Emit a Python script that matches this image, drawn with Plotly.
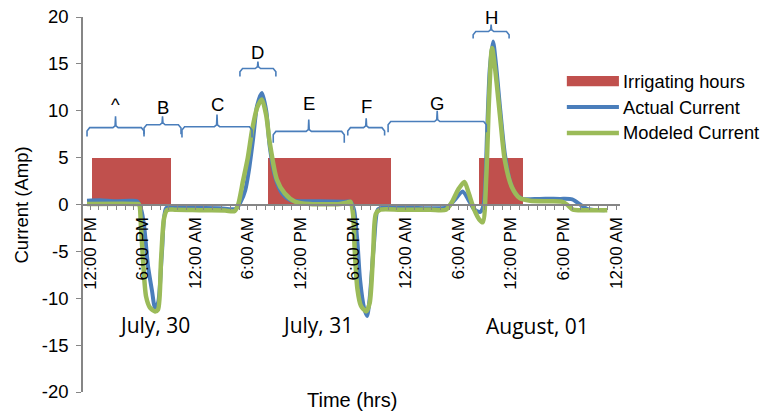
import plotly.graph_objects as go

# ---------------- data (x = hours since July 30, 12:00 PM) ----------------
tick_hours = [0, 6, 12, 18, 24, 30, 36, 42, 48, 54, 60]
tick_labels = ["12:00 PM", "6:00 PM", "12:00 AM", "6:00 AM", "12:00 PM", "6:00 PM",
               "12:00 AM", "6:00 AM", "12:00 PM", "6:00 PM", "12:00 AM"]
y_ticks = [-20, -15, -10, -5, 0, 5, 10, 15, 20]
y_tick_labels = ["-20", "-15", "-10", "-5", "0", "5", "10", "15", "20"]

irrig_start = [0.2, 20.3, 44.4]
irrig_end = [9.2, 34.3, 49.4]
irrig_level = [5, 5, 5]

actual_hours = [-0.34, 1.14, 2.85, 4.56, 5.36, 5.82, 6.16, 6.62, 7.07, 7.41, 7.76, 8.21, 8.67,
                9.35, 11.4, 14.8, 16.65, 17.2, 17.7, 18.1, 18.6, 19.05, 19.6, 20.1, 20.5, 21.1,
                21.9, 22.8, 24.0, 26.2, 29.1, 29.7, 30.1, 30.5, 30.8, 31.25, 31.6, 31.9, 32.4,
                32.85, 33.6, 36.5, 39.9, 40.8, 41.6, 42.5, 43.1, 43.8, 44.5, 44.9, 45.3, 45.6,
                45.97, 46.3, 46.8, 47.3, 47.9, 48.5, 49.3, 51.3, 53.6, 55.0, 55.9, 56.8, 58.7]
actual_amps = [0.4, 0.45, 0.35, 0.4, 0.35, -0.5, -2.2, -6.6, -9.2, -11.0, -10.5, -5.0, -0.4,
               -0.3, -0.35, -0.4, -0.45, 0.3, 1.5, 3.5, 7.0, 10.5, 11.9, 10.0, 6.2, 3.0,
               1.2, 0.5, 0.35, 0.35, 0.3, 0.3, -0.5, -4.0, -8.0, -11.0, -11.9, -10.0, -4.0,
               -0.5, -0.3, -0.35, -0.4, -0.3, 0.5, 1.4, 0.6, -0.5, -0.8, 0.0, 8.0, 14.5,
               17.4, 15.0, 10.0, 5.5, 2.5, 1.2, 0.6, 0.6, 0.6, 0.55, 0.0, -0.5, -0.6]

model_hours = [-0.34, 5.36, 5.6, 5.82, 6.05, 6.39, 6.84, 7.41, 7.76, 8.1, 8.44, 8.78, 9.7,
               12.5, 15.4, 16.5, 16.9, 17.45, 18.0, 18.5, 19.05, 19.6, 20.1, 20.5, 21.3, 22.2,
               23.4, 25.1, 28.5, 29.3, 29.7, 30.0, 30.2, 30.5, 30.9, 31.5, 31.9, 32.3, 32.6,
               33.1, 35.4, 38.8, 40.6, 41.3, 42.0, 42.7, 43.2, 43.8, 44.4, 44.8, 45.2, 45.5,
               45.85, 46.2, 46.8, 47.3, 48.1, 49.0, 50.2, 52.5, 53.8, 54.4, 55.1, 57.0, 59.0]
model_amps = [0.05, 0.05, 0.0, -2.5, -6.0, -9.8, -11.0, -11.4, -11.2, -6.0, -1.5, -0.6, -0.55,
              -0.6, -0.65, -0.7, 0.0, 2.5, 5.0, 8.0, 10.3, 11.2, 9.5, 6.6, 2.7, 1.2,
              0.3, 0.05, 0.05, 0.2, 0.3, -1.0, -5.0, -9.0, -10.8, -11.4, -10.5, -5.0, -1.0,
              -0.55, -0.55, -0.55, -0.55, 0.3, 1.6, 2.4, 1.2, -0.5, -1.6, -1.9, 3.0, 11.0,
              16.7, 14.5, 9.1, 4.8, 1.9, 0.7, 0.4, 0.35, 0.3, 0.0, -0.55, -0.6, -0.6]

# period brackets: label, start, end, line level, tip level, end level
brace_labels = ["^", "B", "C", "D", "E", "F", "G", "H"]
brace_start = [-0.34, 6.16, 10.49, 17.1, 20.9, 29.4, 34.0, 43.7]
brace_end = [6.16, 10.38, 18.48, 21.2, 29.0, 33.6, 45.2, 47.8]
brace_line = [8.2, 8.5, 8.3, 14.5, 7.8, 8.2, 8.85, 18.45]
brace_tip = [9.4, 9.4, 9.6, 15.25, 9.05, 9.2, 10.0, 19.2]
brace_foot = [7.25, 7.5, 7.15, 13.65, 6.6, 7.35, 7.7, 17.7]
brace_text_y = [10.7, 10.35, 10.7, 16.2, 10.8, 10.45, 10.8, 19.95]

day_labels = ["July, 30", "July, 31", "August, 01"]
day_hours = [7.4, 25.9, 51.0]
day_level = [-12.8, -12.8, -13.0]

RED = "#C0504D"
BLUE = "#4A7EBB"
GREEN = "#9BBB59"
AXIS = "#868686"
FONT = "Liberation Sans, Arial, sans-serif"

fig = go.Figure()

fig.add_trace(go.Bar(
    name="Irrigating hours",
    x=[(s + e) / 2 for s, e in zip(irrig_start, irrig_end)],
    width=[e - s for s, e in zip(irrig_start, irrig_end)],
    y=irrig_level, base=0,
    marker=dict(color=RED, line=dict(width=0)),
    showlegend=False, hoverinfo="skip",
))

fig.add_trace(go.Scatter(
    name="Actual Current", x=actual_hours, y=actual_amps, mode="lines",
    line=dict(color=BLUE, width=4, shape="spline", smoothing=0.7),
    showlegend=False,
))
fig.add_trace(go.Scatter(
    name="Modeled Current", x=model_hours, y=model_amps, mode="lines",
    line=dict(color=GREEN, width=4.5, shape="spline", smoothing=0.7),
    showlegend=False,
))

annotations = []
for lab, s, e, yl, yt, yf, ty in zip(brace_labels, brace_start, brace_end, brace_line,
                                      brace_tip, brace_foot, brace_text_y):
    c = (s + e) / 2
    bx = [s, s, s + 0.3, c - 0.3, c - 0.05, c, c + 0.05, c + 0.3, e - 0.3, e, e]
    by = [yf, yl - 0.35, yl, yl, yl + 0.2, yt, yl + 0.2, yl, yl, yl - 0.35, yf]
    fig.add_trace(go.Scatter(x=bx, y=by, mode="lines", line=dict(color=BLUE, width=1.6),
                             showlegend=False, hoverinfo="skip"))
    annotations.append(dict(x=c, y=ty, xref="x", yref="y", text=lab, showarrow=False,
                            font=dict(family=FONT, size=18.5, color="black"),
                            xanchor="center", yanchor="middle"))

for lab, hx, vy in zip(day_labels, day_hours, day_level):
    annotations.append(dict(x=hx, y=vy, xref="x", yref="y", text=lab, showarrow=False,
                            font=dict(family="Open Sans, sans-serif", size=21, color="black"),
                            xanchor="center", yanchor="middle"))

# axis titles
annotations.append(dict(x=0.501, y=-0.021, xref="paper", yref="paper", text="Time (hrs)",
                        showarrow=False, font=dict(family=FONT, size=20, color="black"),
                        xanchor="center", yanchor="middle"))
annotations.append(dict(x=-0.1136, y=0.5, xref="paper", yref="paper", text="Current (Amp)",
                        textangle=-90, showarrow=False,
                        font=dict(family=FONT, size=18.5, color="black"),
                        xanchor="center", yanchor="middle"))

# custom legend
legend_names = ["Irrigating hours", "Actual Current", "Modeled Current"]
legend_y = [0.829, 0.760, 0.691]
shapes = [
    dict(type="rect", xref="paper", yref="paper", x0=0.901, x1=0.998,
         y0=legend_y[0] - 0.0135, y1=legend_y[0] + 0.0135, fillcolor=RED, line=dict(width=0)),
    dict(type="line", xref="paper", yref="paper", x0=0.901, x1=0.998,
         y0=legend_y[1], y1=legend_y[1], line=dict(color=BLUE, width=4)),
    dict(type="line", xref="paper", yref="paper", x0=0.901, x1=0.998,
         y0=legend_y[2], y1=legend_y[2], line=dict(color=GREEN, width=4.5)),
]
for name, ly in zip(legend_names, legend_y):
    annotations.append(dict(x=1.002, y=ly, xref="paper", yref="paper", text=name,
                            showarrow=False, font=dict(family=FONT, size=18.3, color="black"),
                            xanchor="left", yanchor="middle"))

fig.update_layout(
    width=764, height=412, autosize=False,
    margin=dict(l=83, r=144, t=17, b=20, autoexpand=False),
    paper_bgcolor="white", plot_bgcolor="white",
    showlegend=False, barmode="overlay", bargap=0,
    annotations=annotations, shapes=shapes,
    xaxis=dict(
        range=[-0.8, 60.45], anchor="free", position=0.5, automargin=False,
        tickmode="array", tickvals=tick_hours, ticktext=tick_labels, tickangle=-90,
        ticks="outside", ticklen=5, tickcolor=AXIS, tickwidth=1.2,
        minor=dict(dtick=1, tick0=0, ticks="outside", ticklen=5, tickcolor=AXIS, tickwidth=1.2,
                   showgrid=False),
        showline=True, linecolor=AXIS, linewidth=1.6, showgrid=False, zeroline=False,
        tickfont=dict(family=FONT, size=17, color="black"),
    ),
    yaxis=dict(
        range=[-20, 20], automargin=False,
        tickmode="array", tickvals=y_ticks, ticktext=y_tick_labels,
        ticks="outside", ticklen=5, tickcolor=AXIS, tickwidth=1.2, ticklabelstandoff=4,
        showline=True, linecolor=AXIS, linewidth=1.6, showgrid=False, zeroline=False,
        tickfont=dict(family=FONT, size=18.5, color="black"),
    ),
)

fig.write_html(
    "out.html",
    config={"displayModeBar": False},
    post_script="document.body.style.margin='0';document.body.style.padding='0';"
                "document.documentElement.style.overflow='hidden';",
)
